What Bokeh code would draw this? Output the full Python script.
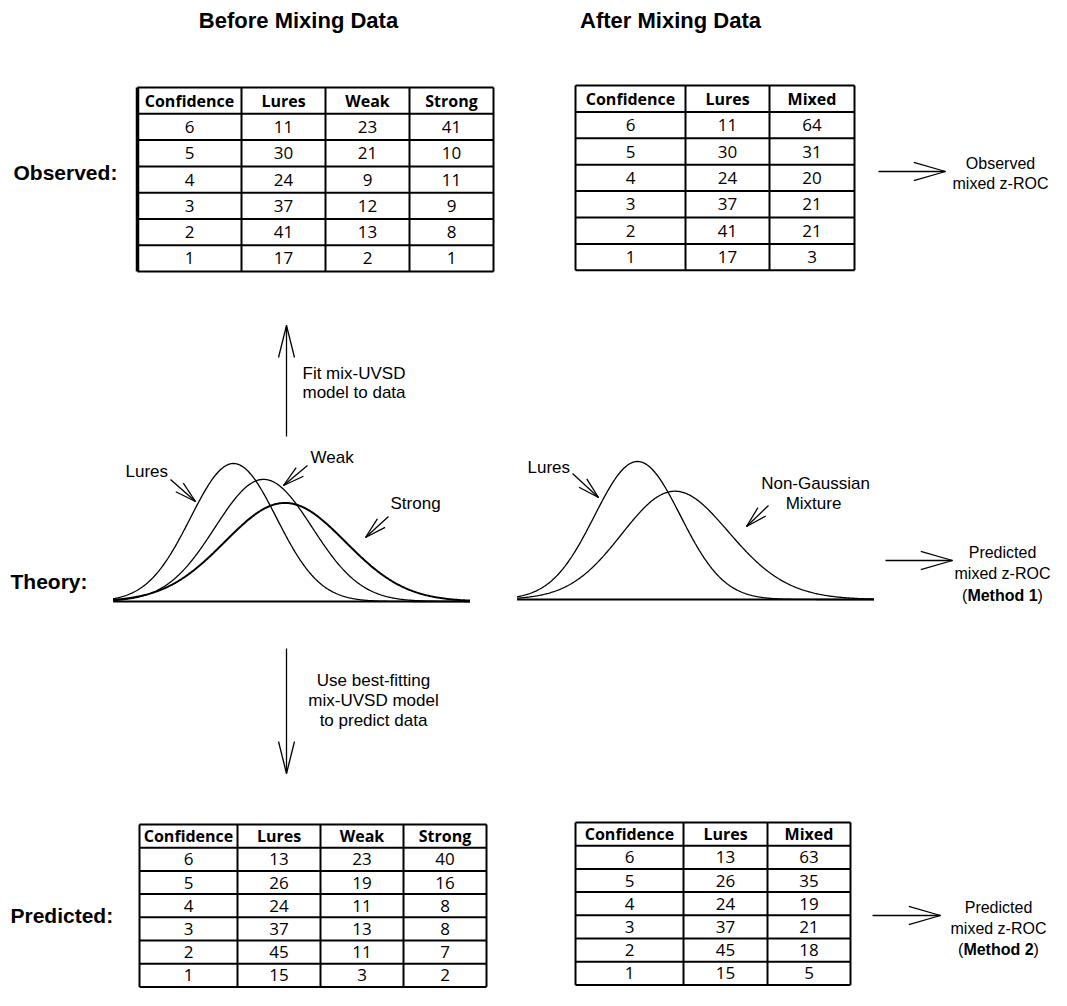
import numpy as np
from bokeh.plotting import figure
from bokeh.models import Range1d
from bokeh.embed import file_html
from bokeh.resources import INLINE
from bokeh.core.properties import value

# ---------------- data ----------------
confidence = [6, 5, 4, 3, 2, 1]
obs_lures = [11, 30, 24, 37, 41, 17]
obs_weak = [23, 21, 9, 12, 13, 2]
obs_strong = [41, 10, 11, 9, 8, 1]
obs_mixed = [64, 31, 20, 21, 21, 3]
pred_lures = [13, 26, 24, 37, 45, 15]
pred_weak = [23, 19, 11, 13, 11, 3]
pred_strong = [40, 16, 8, 8, 7, 2]
pred_mixed = [63, 35, 19, 21, 18, 5]
headers_before = ["Confidence", "Lures", "Weak", "Strong"]
headers_after = ["Confidence", "Lures", "Mixed"]

# mix-UVSD model parameters (z units)
lure_mu, lure_sd = 0.0, 1.0
weak_mu, weak_sd = 0.7, 1.13
strong_mu, strong_sd = 1.2, 1.4
mix_weight_weak = 0.5
z_min, z_max = -2.8, 5.5

# ---------------- figure ----------------
p = figure(width=1051, height=990, x_range=Range1d(0, 1051), y_range=Range1d(990, 0),
           output_backend="svg", toolbar_location=None, min_border=0,
           x_axis_location=None, y_axis_location=None, outline_line_color=None)
p.grid.visible = False
p.background_fill_color = "white"
p.border_fill_color = "white"

ARIAL = "Liberation Sans"
TABF = "Open Sans"


def txt(x, y, s, size=17, bold=False, align="center", font=ARIAL):
    p.text(x=[x], y=[y], text=[s], text_font=value(font), text_font_size=f"{size}px",
           text_font_style="bold" if bold else "normal", text_align=align,
           text_baseline="middle", text_color="black")


def arrow(x1, y1, x2, y2, head=33, ang=15, lw=1.3):
    p.segment(x0=[x1], y0=[y1], x1=[x2], y1=[y2], line_color="black", line_width=lw)
    d = np.array([x1 - x2, y1 - y2], dtype=float)
    d /= np.hypot(*d)
    xs0, ys0 = [], []
    for s in (+1, -1):
        a = np.radians(ang) * s
        r = np.array([d[0] * np.cos(a) - d[1] * np.sin(a), d[0] * np.sin(a) + d[1] * np.cos(a)])
        xs0.append(x2 + head * r[0])
        ys0.append(y2 + head * r[1])
    p.segment(x0=xs0, y0=ys0, x1=[x2, x2], y1=[y2, y2], line_color="black", line_width=lw)


def table(x0, y0, widths, row_h, headers, cols, left_lw=2.0):
    n_rows = len(cols[0]) + 1
    total_w = sum(widths)
    edges = np.concatenate([[x0], x0 + np.cumsum(widths)])
    for j, h in enumerate(headers):
        cx = (edges[j] + edges[j + 1]) / 2
        txt(cx, y0 + row_h * 0.5, h, size=16, bold=True, font=TABF)
        for i, v in enumerate(cols[j]):
            txt(cx, y0 + row_h * (i + 1.5), str(v), size=17, font=TABF)
    ys = [y0 + row_h * i for i in range(n_rows + 1)]
    p.segment(x0=[x0] * len(ys), y0=ys, x1=[x0 + total_w] * len(ys), y1=ys,
              line_color="black", line_width=2)
    p.segment(x0=list(edges[1:]), y0=[y0] * (len(edges) - 1), x1=list(edges[1:]),
              y1=[y0 + row_h * n_rows] * (len(edges) - 1), line_color="black", line_width=2)
    p.segment(x0=[x0], y0=[y0], x1=[x0], y1=[y0 + row_h * n_rows],
              line_color="black", line_width=left_lw)


def npdf(z, mu, sd):
    return np.exp(-0.5 * ((z - mu) / sd) ** 2) / (sd * np.sqrt(2 * np.pi))


# ---------------- titles & row labels ----------------
txt(298, 20, "Before Mixing Data", size=22, bold=True)
txt(670, 20, "After Mixing Data", size=22, bold=True)
txt(13, 172, "Observed:", size=21, bold=True, align="left")
txt(10, 581, "Theory:", size=21, bold=True, align="left")
txt(10, 915, "Predicted:", size=21, bold=True, align="left")

# ---------------- tables ----------------
table(137, 87, [104, 84, 84, 84], 26.3, headers_before,
      [confidence, obs_lures, obs_weak, obs_strong], left_lw=3.5)
table(575, 85, [110, 84, 85], 26.4, headers_after,
      [confidence, obs_lures, obs_mixed])
table(139, 824, [98, 83, 83, 83], 23.2, headers_before,
      [confidence, pred_lures, pred_weak, pred_strong])
table(575, 822, [108, 84, 83], 23.2, headers_after,
      [confidence, pred_lures, pred_mixed])

# ---------------- theory curves ----------------
z = np.linspace(z_min, z_max, 400)
px_per_z = 43.0
py_per_d = 138.0 / npdf(0, 0, 1)


def curve(x_zero, base, dens, lw=1.3):
    p.line(x_zero + z * px_per_z, base - dens * py_per_d, line_color="black", line_width=lw)


lx0, lbase = 233, 601
curve(lx0, lbase, npdf(z, lure_mu, lure_sd))
curve(lx0, lbase, npdf(z, weak_mu, weak_sd))
curve(lx0, lbase, npdf(z, strong_mu, strong_sd), lw=2.0)
p.segment(x0=[lx0 + z_min * px_per_z], y0=[lbase], x1=[lx0 + z_max * px_per_z], y1=[lbase],
          line_color="black", line_width=2)

rx0, rbase = 637, 599
mixture = mix_weight_weak * npdf(z, weak_mu, weak_sd) + (1 - mix_weight_weak) * npdf(z, strong_mu, strong_sd)
curve(rx0, rbase, npdf(z, lure_mu, lure_sd))
curve(rx0, rbase, mixture)
p.segment(x0=[rx0 + z_min * px_per_z], y0=[rbase], x1=[rx0 + z_max * px_per_z], y1=[rbase],
          line_color="black", line_width=2)

txt(125, 471, "Lures", align="left")
arrow(170, 479, 195, 501, head=22, ang=15)
txt(310, 457, "Weak", align="left")
arrow(307, 465, 283, 485, head=22, ang=15)
txt(390, 503, "Strong", align="left")
arrow(388, 516, 365, 537, head=22, ang=15)
txt(527, 467, "Lures", align="left")
arrow(572, 473, 598, 497, head=22, ang=15)
txt(815, 483, "Non-Gaussian")
txt(813, 503, "Mixture")
arrow(768, 505, 746, 526, head=22, ang=15)

# ---------------- vertical arrows ----------------
arrow(286, 436, 286, 325, head=33, ang=14)
txt(302, 373, "Fit mix-UVSD", align="left")
txt(302, 392, "model to data", align="left")
arrow(286, 648, 286, 773, head=33, ang=14)
txt(373, 680, "Use best-fitting")
txt(373, 700, "mix-UVSD model")
txt(373, 720, "to predict data")

# ---------------- right-hand outputs ----------------
arrow(878, 171, 945, 171, head=33, ang=16)
txt(1000, 163, "Observed", size=16)
txt(1000, 183, "mixed z-ROC", size=16)

bw = 4.389 * 16 / 2
arrow(885, 560, 952, 560, head=33, ang=16)
txt(1002, 552, "Predicted", size=16)
txt(1002, 573, "mixed z-ROC", size=16)
txt(1002 - bw, 595, "(", size=16, align="right")
txt(1002, 595, "Method 1", size=16, bold=True)
txt(1002 + bw, 595, ")", size=16, align="left")

arrow(872, 915, 940, 915, head=33, ang=16)
txt(998, 907, "Predicted", size=16)
txt(998, 928, "mixed z-ROC", size=16)
txt(998 - bw, 949, "(", size=16, align="right")
txt(998, 949, "Method 2", size=16, bold=True)
txt(998 + bw, 949, ")", size=16, align="left")

open("out.html", "w").write(file_html(p, INLINE))
